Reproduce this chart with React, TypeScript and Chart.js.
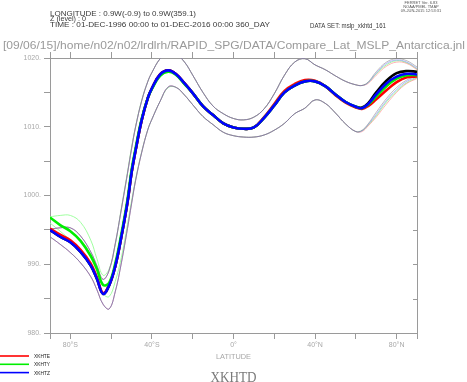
import React, { useEffect, useRef } from "react";
import { Chart, registerables } from "chart.js";
Chart.register(...registerables);

// Latitude grid (degrees, negative = south)
const lats = [-90,-85,-80,-75,-70,-67,-64,-61,-58,-55,-52,-50,-48,-45,-42,-40,-36,-32,-28,-24,-20,-15,-10,-5,0,5,10,15,20,25,30,35,40,45,50,55,60,63,66,70,75,80,85,90];

// Mean MSLP (hPa)
const xkhte = [995.2,994.3,993.5,992.1,990.1,988.1,985.8,987.0,989.7,994.0,999.0,1003.3,1006.6,1011.0,1014.2,1015.6,1017.6,1018.2,1017.6,1016.3,1014.9,1013.0,1011.7,1010.5,1009.9,1009.7,1009.9,1011.4,1013.3,1015.2,1016.2,1016.8,1016.7,1015.9,1014.6,1013.5,1012.8,1012.6,1013.0,1014.0,1015.3,1016.5,1017.2,1017.3];
const xkhty = [996.8,995.7,994.8,993.4,991.2,989.3,987.0,987.3,990.1,994.4,999.4,1003.7,1006.9,1011.2,1014.2,1015.5,1017.4,1018.0,1017.5,1016.2,1014.9,1013.0,1011.7,1010.5,1009.9,1009.7,1009.9,1011.3,1013.1,1015.0,1016.0,1016.6,1016.6,1015.9,1014.7,1013.6,1012.9,1012.7,1013.2,1014.4,1015.9,1017.0,1017.5,1017.5];
const xkhtz = [995.0,994.0,993.2,991.8,989.8,987.9,985.7,986.9,989.7,994.0,999.0,1003.3,1006.6,1011.0,1014.2,1015.6,1017.6,1018.2,1017.6,1016.3,1014.9,1013.0,1011.7,1010.5,1009.9,1009.7,1009.9,1011.3,1013.1,1015.0,1016.0,1016.6,1016.6,1015.9,1014.7,1013.6,1012.9,1012.7,1013.3,1014.7,1016.3,1017.3,1017.7,1017.6];
const xkhtd = [995.0,994.0,993.2,991.8,989.8,987.9,985.7,986.9,989.7,994.0,999.0,1003.3,1006.6,1011.0,1014.2,1015.6,1017.6,1018.2,1017.6,1016.3,1014.9,1013.0,1011.7,1010.5,1009.9,1009.7,1009.9,1011.3,1013.1,1015.0,1016.0,1016.6,1016.6,1015.9,1014.7,1013.6,1012.9,1012.8,1013.4,1015.0,1016.7,1017.8,1018.1,1018.0];

// Mean +/- one standard deviation
const xkhteHi = [995.1,995.3,995.3,994.1,991.8,989.8,987.8,989.1,993.0,998.0,1003.2,1006.8,1010.0,1013.8,1016.6,1017.9,1019.9,1020.9,1020.5,1019.4,1017.5,1015.0,1013.0,1011.9,1011.2,1011.0,1011.4,1012.6,1014.8,1017.5,1019.4,1019.9,1019.0,1018.3,1017.4,1016.6,1016.1,1016.0,1016.3,1017.5,1018.8,1019.4,1019.2,1018.3];
const xkhteLo = [994.0,992.9,991.7,990.2,988.2,986.3,984.2,983.5,986.0,990.2,995.2,998.8,1002.2,1006.3,1009.6,1011.1,1013.7,1015.8,1015.7,1014.6,1013.2,1011.5,1010.3,1009.2,1008.7,1008.5,1008.5,1008.8,1009.5,1010.5,1011.9,1012.7,1013.9,1013.4,1012.0,1010.4,1009.3,1009.3,1010.1,1011.4,1013.3,1015.0,1016.3,1017.0];
const xkhtyHi = [996.9,997.1,997.1,996.1,993.5,990.8,988.4,989.3,992.8,998.2,1003.4,1007.0,1010.1,1013.9,1016.6,1017.9,1019.9,1020.8,1020.5,1019.4,1017.5,1015.0,1013.0,1011.9,1011.2,1011.0,1011.4,1012.6,1014.8,1017.5,1019.4,1019.9,1019.0,1018.3,1017.4,1016.6,1016.1,1016.0,1016.4,1017.7,1019.0,1019.6,1019.3,1018.4];
const xkhtyLo = [996.0,994.8,993.5,991.8,989.5,987.6,985.7,985.3,987.5,991.0,995.8,999.2,1002.4,1006.4,1009.6,1011.1,1013.7,1015.7,1015.7,1014.6,1013.2,1011.5,1010.3,1009.2,1008.7,1008.5,1008.5,1008.8,1009.5,1010.5,1011.9,1012.7,1013.9,1013.4,1012.0,1010.4,1009.3,1009.4,1010.2,1011.6,1013.6,1015.2,1016.4,1017.1];
const xkhtzHi = [995.1,995.3,995.3,994.1,991.8,989.8,987.8,989.1,993.0,998.0,1003.2,1006.8,1010.0,1013.8,1016.6,1017.9,1019.9,1020.9,1020.5,1019.4,1017.5,1015.0,1013.0,1011.9,1011.2,1011.0,1011.4,1012.6,1014.8,1017.5,1019.4,1019.9,1019.0,1018.3,1017.4,1016.6,1016.1,1016.0,1016.4,1017.8,1019.2,1019.7,1019.4,1018.5];
const xkhtzLo = [994.0,992.9,991.7,990.2,988.2,986.3,984.2,983.5,986.0,990.2,995.2,998.8,1002.2,1006.3,1009.6,1011.1,1013.7,1015.8,1015.7,1014.6,1013.2,1011.5,1010.3,1009.2,1008.7,1008.5,1008.5,1008.8,1009.5,1010.5,1011.9,1012.7,1013.9,1013.4,1012.0,1010.4,1009.3,1009.4,1010.3,1011.8,1013.8,1015.4,1016.6,1017.2];
const xkhtdHi = [995.1,995.3,995.3,994.1,991.8,989.8,987.8,989.1,993.0,998.0,1003.2,1006.8,1010.0,1013.8,1016.6,1017.9,1019.9,1020.9,1020.5,1019.4,1017.5,1015.0,1013.0,1011.9,1011.2,1011.0,1011.4,1012.6,1014.8,1017.5,1019.4,1019.9,1019.0,1018.3,1017.4,1016.6,1016.1,1016.0,1016.5,1018.0,1019.4,1019.9,1019.6,1018.7];
const xkhtdLo = [994.0,992.9,991.7,990.2,988.2,986.3,984.2,983.5,986.0,990.2,995.2,998.8,1002.2,1006.3,1009.6,1011.1,1013.7,1015.8,1015.7,1014.6,1013.2,1011.5,1010.3,1009.2,1008.7,1008.5,1008.5,1008.8,1009.5,1010.5,1011.9,1012.7,1013.9,1013.4,1012.0,1010.4,1009.3,1009.5,1010.4,1012.1,1014.1,1015.7,1016.8,1017.4];

// Axis ticks
const xTicks = [-90,-80,-60,-40,-20,0,20,40,60,80,90];
const xLabelTicks = [-80,-40,0,40,80];
const yTicks = [980,985,990,995,1000,1005,1010,1015,1020];
const yLabelTicks = [980,990,1000,1010,1020];

const legendItems = [
  { label: "XKHTE", color: "#ff0000" },
  { label: "XKHTY", color: "#00ee00" },
  { label: "XKHTZ", color: "#0000ff" },
];

const headerLines = [
  "LONGITUDE : 0.9W(-0.9) to 0.9W(359.1)",
  "Z (level) : 0",
  "TIME : 01-DEC-1996 00:00 to 01-DEC-2016 00:00 360_DAY",
];
const dataSetText = "DATA SET: mslp_xkhtd_161";
const pathText = "[09/06/15]/home/n02/n02/lrdlrh/RAPID_SPG/DATA/Compare_Lat_MSLP_Antarctica.jnl";
const ferretLines = ["FERRET Ver. 6.83", "NOAA/PMEL TMAP", "09-JUN-2015 12:53:31"];
const xTitle = "LATITUDE";
const plotTitle = "XKHTD";

const SANS = "'Liberation Sans', Arial, sans-serif";
const AXIS = "#9a9a9a";
const LABEL = "#a8a8a8";

function latLabel(v: number): string {
  if (!xLabelTicks.includes(v)) return "";
  if (v === 0) return "0\u00b0";
  return v < 0 ? `${-v}\u00b0S` : `${v}\u00b0N`;
}

function series(label: string, values: number[], color: string, width: number) {
  return {
    label,
    data: lats.map((x, i) => ({ x, y: values[i] })),
    borderColor: color,
    backgroundColor: color,
    borderWidth: width,
    pointRadius: 0,
    fill: false,
    tension: 0.4,
  };
}

function fitText(ctx: CanvasRenderingContext2D, text: string, x: number, y: number, w: number | null, align: "left" | "center" = "left") {
  const m = ctx.measureText(text).width;
  const sx = w ? w / m : 1;
  const width = m * sx;
  const left = align === "center" ? x - width / 2 : x;
  ctx.save();
  ctx.translate(left, y);
  ctx.scale(sx, 1);
  ctx.textAlign = "left";
  ctx.fillText(text, 0, 0);
  ctx.restore();
}

const decorPlugin = {
  id: "decor",
  afterDraw(chart: any) {
    const ctx: CanvasRenderingContext2D = chart.ctx;
    const area = chart.chartArea;
    const yS = chart.scales.y;
    ctx.save();
    // inward ticks on right axis
    ctx.strokeStyle = AXIS;
    ctx.lineWidth = 1;
    yTicks.forEach((v) => {
      const py = Math.round(yS.getPixelForValue(v)) + 0.5;
      ctx.beginPath();
      ctx.moveTo(area.right - 4, py);
      ctx.lineTo(area.right, py);
      ctx.stroke();
    });
    ctx.textBaseline = "alphabetic";
    // header
    ctx.fillStyle = "#3a3a3a";
    ctx.font = `6.3px ${SANS}`;
    fitText(ctx, headerLines[0], 50, 15.5, 146);
    fitText(ctx, headerLines[1], 50, 21, 36);
    fitText(ctx, headerLines[2], 50, 26.8, 220);
    ctx.font = `7.5px ${SANS}`;
    fitText(ctx, dataSetText, 310, 27.5, 76);
    ctx.fillStyle = "#9a9a9a";
    ctx.font = `11px ${SANS}`;
    fitText(ctx, pathText, 3, 48.5, 462);
    ctx.fillStyle = "#555";
    ctx.font = `4px ${SANS}`;
    fitText(ctx, ferretLines[0], 421, 4, null, "center");
    fitText(ctx, ferretLines[1], 421, 8, null, "center");
    fitText(ctx, ferretLines[2], 421, 12, null, "center");
    // x title
    ctx.fillStyle = LABEL;
    ctx.font = `7.5px ${SANS}`;
    fitText(ctx, xTitle, (area.left + area.right) / 2, 359, 35, "center");
    // legend
    legendItems.forEach((it, i) => {
      const ly = 356 + i * 8.3;
      ctx.strokeStyle = it.color;
      ctx.lineWidth = 1.6;
      ctx.beginPath();
      ctx.moveTo(0, ly);
      ctx.lineTo(29, ly);
      ctx.stroke();
      ctx.fillStyle = "#222";
      ctx.font = `5px ${SANS}`;
      fitText(ctx, it.label, 34, ly + 2, 16);
    });
    // title
    ctx.fillStyle = "#7a7a7a";
    ctx.font = `14px 'Liberation Serif', 'Times New Roman', serif`;
    fitText(ctx, plotTitle, (area.left + area.right) / 2, 381.5, 46, "center");
    ctx.restore();
  },
};

function setTicks(values: number[]) {
  return (scale: any) => {
    scale.ticks = values.map((v) => ({ value: v }));
  };
}

export default function App() {
  const ref = useRef<HTMLCanvasElement | null>(null);
  useEffect(() => {
    document.body.style.margin = "0";
    const canvas = ref.current!;
    const thin = 1;
    const thick = 2.6;
    const chart = new Chart(canvas, {
      type: "line",
      data: {
        datasets: [
          series("XKHTZ", xkhtz, "#0000ff", thick),
          series("XKHTY", xkhty, "#00ee00", thick),
          series("XKHTE", xkhte, "#ff0000", thick),
          series("XKHTD", xkhtd, "#000000", thick),
          series("XKHTD+sd", xkhtdHi, "rgba(90,90,90,0.4)", thin),
          series("XKHTD-sd", xkhtdLo, "rgba(90,90,90,0.4)", thin),
          series("XKHTZ+sd", xkhtzHi, "rgba(130,130,255,0.6)", thin),
          series("XKHTZ-sd", xkhtzLo, "rgba(130,130,255,0.6)", thin),
          series("XKHTE+sd", xkhteHi, "rgba(255,130,130,0.6)", thin),
          series("XKHTE-sd", xkhteLo, "rgba(255,130,130,0.6)", thin),
          series("XKHTY+sd", xkhtyHi, "rgba(150,255,150,0.9)", thin),
          series("XKHTY-sd", xkhtyLo, "rgba(150,255,150,0.9)", thin),
        ],
      },
      options: {
        animation: false,
        responsive: false,
        devicePixelRatio: 1,
        layout: { padding: 0 },
        plugins: { legend: { display: false }, tooltip: { enabled: false }, title: { display: false } },
        scales: {
          x: {
            type: "linear",
            position: "bottom",
            min: -90,
            max: 90,
            afterBuildTicks: setTicks(xTicks),
            afterFit: (s: any) => { s.height = 49; },
            ticks: {
              autoSkip: false,
              maxRotation: 0,
              padding: 2,
              color: LABEL,
              font: { size: 7, family: SANS },
              callback: (v: any) => latLabel(Number(v)),
            },
            grid: { drawOnChartArea: false, drawTicks: true, tickLength: 6, color: AXIS },
            border: { color: AXIS },
          },
          xTop: {
            type: "linear",
            position: "top",
            min: -90,
            max: 90,
            afterBuildTicks: setTicks(xTicks),
            afterFit: (s: any) => { s.height = 58; },
            ticks: { autoSkip: false, maxRotation: 0, callback: () => "", font: { size: 7 } },
            grid: { drawOnChartArea: false, drawTicks: true, tickLength: 6, color: AXIS },
            border: { color: AXIS },
          },
          y: {
            type: "linear",
            position: "left",
            min: 980,
            max: 1020,
            afterBuildTicks: setTicks(yTicks),
            afterFit: (s: any) => { s.width = 50; },
            ticks: {
              autoSkip: false,
              padding: 3,
              color: LABEL,
              font: { size: 7, family: SANS },
              callback: (v: any) => (yLabelTicks.includes(Number(v)) ? `${v}.` : ""),
            },
            grid: { drawOnChartArea: false, drawTicks: true, tickLength: 6, color: AXIS },
            border: { color: AXIS },
          },
          yRight: {
            type: "linear",
            position: "right",
            min: 980,
            max: 1020,
            afterFit: (s: any) => { s.width = 50; },
            ticks: { display: false },
            grid: { drawOnChartArea: false, drawTicks: false, color: AXIS },
            border: { color: AXIS },
          },
        },
      },
      plugins: [decorPlugin],
    } as any);
    return () => chart.destroy();
  }, []);
  return (
    <div style={{ width: 467, height: 382, background: "#fff" }}>
      <canvas ref={ref} width={467} height={382} style={{ display: "block" }} />
    </div>
  );
}
